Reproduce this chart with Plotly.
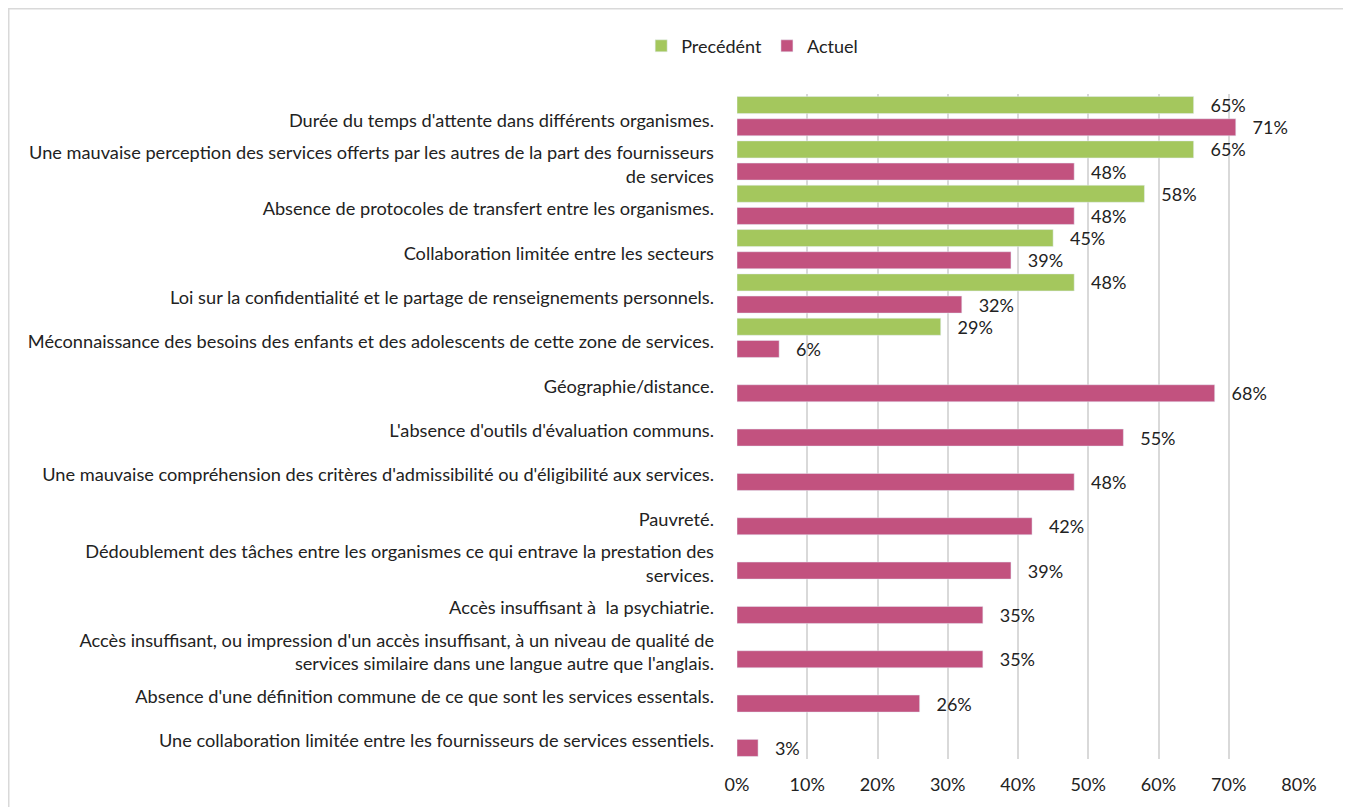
import plotly.graph_objects as go

categories = [
    "Durée du temps d'attente dans différents organismes.",
    "Une mauvaise perception des services offerts par les autres de la part des fournisseurs<br>de services",
    "Absence de protocoles de transfert entre les organismes.",
    "Collaboration limitée entre les secteurs",
    "Loi sur la confidentialité et le partage de renseignements personnels.",
    "Méconnaissance des besoins des enfants et des adolescents de cette zone de services.",
    "Géographie/distance.",
    "L'absence d'outils d'évaluation communs.",
    "Une mauvaise compréhension des critères d'admissibilité ou d'éligibilité aux services.",
    "Pauvreté.",
    "Dédoublement des tâches entre les organismes ce qui entrave la prestation des<br>services.",
    "Accès insuffisant à  la psychiatrie.",
    "Accès insuffisant, ou impression d'un accès insuffisant, à un niveau de qualité de<br>services similaire dans une langue autre que l'anglais.",
    "Absence d'une définition commune de ce que sont les services essentals.",
    "Une collaboration limitée entre les fournisseurs de services essentiels.",
]
precedent = [0.65, 0.65, 0.58, 0.45, 0.48, 0.29, None, None, None, None, None, None, None, None, None]
actuel = [0.71, 0.48, 0.48, 0.39, 0.32, 0.06, 0.68, 0.55, 0.48, 0.42, 0.39, 0.35, 0.35, 0.26, 0.03]

FONT = "Lato, sans-serif"
GREEN = "#a4c75d"
PINK = "#c2527f"

fig = go.Figure()
for name, vals, color in [("Precédént", precedent, GREEN), ("Actuel", actuel, PINK)]:
    fig.add_trace(go.Bar(
        y=categories,
        x=vals,
        name=name,
        orientation="h",
        marker=dict(color=color),
        text=[None if v is None else f"{round(v * 100)}%" for v in vals],
        textposition="outside",
        texttemplate="   %{text}",
        textfont=dict(size=18, color="#222"),
        constraintext="none",
        cliponaxis=False,
    ))

# page body adds an 8px offset, so margins are shifted to compensate
fig.update_layout(
    width=1351,
    height=807,
    barmode="group",
    bargap=0.0,
    bargroupgap=0.23,
    paper_bgcolor="white",
    plot_bgcolor="white",
    font=dict(family=FONT, size=18, color="#222"),
    margin=dict(l=729, r=60, t=86, b=56, autoexpand=False),
    legend=dict(orientation="h", x=0.027, xanchor="center", y=1.072, yanchor="middle",
                font=dict(size=18), traceorder="normal"),
    xaxis=dict(range=[0, 0.8], tickformat=".0%", dtick=0.1, showgrid=True,
               gridcolor="#d9d9d9", gridwidth=1.5, zeroline=False, showline=False,
               ticklabelstandoff=13, tickfont=dict(size=18), automargin=False),
    yaxis=dict(autorange="reversed", showgrid=False, showline=False, automargin=False,
               ticklabelstandoff=22, ticklabelshift=-4, tickfont=dict(size=18.2)),
    shapes=[dict(type="rect", xref="paper", yref="paper", x0=-1.2958, x1=1.2, y0=-0.2, y1=1.1282,
                 line=dict(color="#d9d9d9", width=1.5), fillcolor="rgba(0,0,0,0)")],
)

fig.write_html("out.html")
